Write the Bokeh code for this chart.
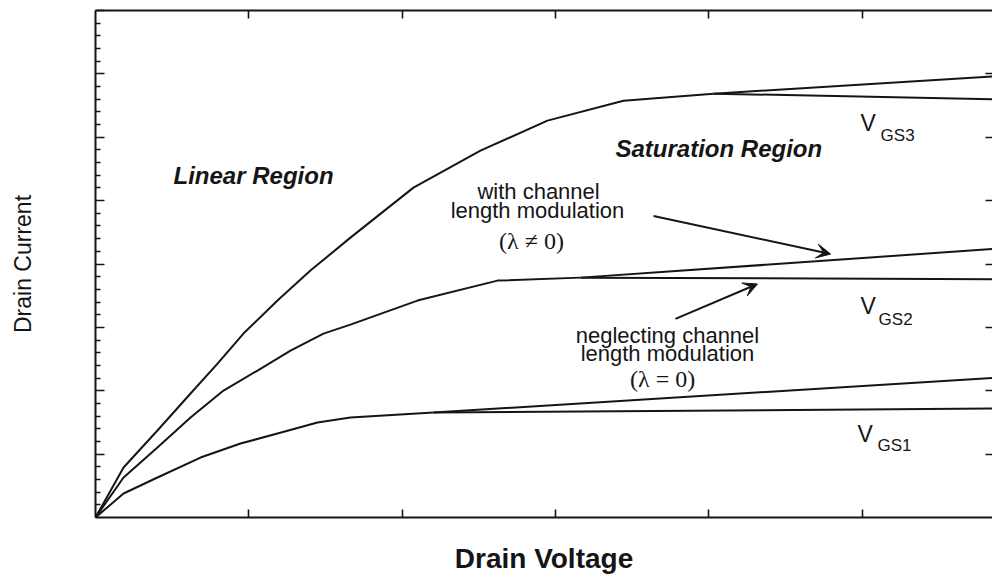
from bokeh.plotting import figure
from bokeh.models import Range1d, LinearAxis, FixedTicker, Label, Arrow, VeeHead
from bokeh.embed import file_html
from bokeh.resources import INLINE

# ---------------- data ----------------
# Drain voltage (arbitrary units) / drain current (arbitrary units)
vgs3_vds = [0, 0.183, 0.404, 0.620, 0.796, 0.965, 1.187, 1.402, 1.663, 2.074, 2.511, 2.948, 3.444, 4.031]
vgs3_id = [0, 0.789, 1.372, 1.956, 2.429, 2.902, 3.423, 3.896, 4.416, 5.205, 5.789, 6.262, 6.577, 6.688]
vgs2_vds = [0, 0.183, 0.404, 0.620, 0.835, 1.057, 1.272, 1.487, 1.663, 2.100, 2.622, 3.164]
vgs2_id = [0, 0.631, 1.104, 1.577, 2.003, 2.319, 2.634, 2.902, 3.044, 3.423, 3.738, 3.785]
vgs1_vds = [0, 0.183, 0.404, 0.685, 0.946, 1.187, 1.448, 1.663, 2.205]
vgs1_id = [0, 0.379, 0.631, 0.946, 1.167, 1.325, 1.498, 1.577, 1.656]

vds_end = 5.87
# saturation current at the right edge: with (lambda != 0) and without (lambda = 0) CLM
sat_end_clm = [6.96, 4.24, 2.205]     # VGS3, VGS2, VGS1
sat_end_flat = [6.60, 3.76, 1.72]

x_ticks = [1, 2, 3, 4, 5]
y_ticks = [1, 2, 3, 4, 5, 6, 7, 8]
y_minor = [i / 5 for i in range(1, 40) if i % 5 != 0]

INK = "#151515"
SANS = "Liberation Sans"

p = figure(width=992, height=577, output_backend="svg", toolbar_location=None,
           x_range=Range1d(0, 5.851), y_range=Range1d(0, 8),
           x_axis_location=None, y_axis_location=None,
           min_border_left=95, min_border_right=0, min_border_top=10, min_border_bottom=60)
p.outline_line_color = None
p.xgrid.grid_line_color = None
p.ygrid.grid_line_color = None
p.background_fill_color = "white"
p.border_fill_color = "white"


def style_axis(ax, tick_len=8):
    ax.axis_line_color = INK
    ax.axis_line_width = 2
    ax.major_tick_in = tick_len
    ax.major_tick_out = 0
    ax.minor_tick_in = 5
    ax.minor_tick_out = 0
    ax.major_tick_line_color = INK
    ax.major_tick_line_width = 1.6
    ax.minor_tick_line_color = INK
    ax.minor_tick_line_width = 1.3
    ax.major_label_text_font_size = "0px"
    ax.major_label_text_color = None
    ax.major_label_text_alpha = 0
    ax.major_label_standoff = 0


left = LinearAxis(ticker=FixedTicker(ticks=y_ticks, minor_ticks=y_minor))
style_axis(left, 9)
left.axis_label = "Drain Current"
left.axis_label_text_font = SANS
left.axis_label_text_font_size = "23px"
left.axis_label_text_font_style = "normal"
left.axis_label_text_color = INK
left.axis_label_standoff = 60
p.add_layout(left, "left")

bottom = LinearAxis(ticker=FixedTicker(ticks=x_ticks, minor_ticks=[]))
style_axis(bottom, 8)
bottom.axis_label = "Drain Voltage"
bottom.axis_label_text_font = SANS
bottom.axis_label_text_font_size = "28px"
bottom.axis_label_text_font_style = "bold"
bottom.axis_label_text_color = INK
bottom.axis_label_standoff = 25
p.add_layout(bottom, "below")

top = LinearAxis(ticker=FixedTicker(ticks=x_ticks, minor_ticks=[]))
style_axis(top, 8)
p.add_layout(top, "above")

right = LinearAxis(ticker=FixedTicker(ticks=y_ticks[:-1], minor_ticks=[]))
style_axis(right, 7)
right.axis_line_color = None
p.add_layout(right, "right")

# ---------------- curves ----------------
curves = [(vgs3_vds, vgs3_id), (vgs2_vds, vgs2_id), (vgs1_vds, vgs1_id)]
for (xs, ys), yc, yf in zip(curves, sat_end_clm, sat_end_flat):
    p.line(xs, ys, line_color=INK, line_width=2, line_join="round")
    p.line([xs[-1], vds_end], [ys[-1], yc], line_color=INK, line_width=2)
    p.line([xs[-1], vds_end], [ys[-1], yf], line_color=INK, line_width=2)

# ---------------- annotations ----------------
def lab(x, y, text, size, style="normal", font=SANS, align="left"):
    p.add_layout(Label(x=x, y=y, text=text, text_font=font, text_font_size=size,
                       text_font_style=style, text_color=INK, text_align=align,
                       text_baseline="middle"))


lab(0.509, 5.39, "Linear Region", "24px", "bold italic")
lab(3.392, 5.83, "Saturation Region", "24px", "bold italic")

lab(2.890, 5.14, "with channel", "22px", align="center")
lab(2.883, 4.84, "length modulation", "22px", align="center")
lab(2.844, 4.37, "(\u03bb \u2260 0)", "24px", font="Liberation Serif", align="center")

lab(3.731, 2.87, "neglecting channel", "22px", align="center")
lab(3.731, 2.58, "length modulation", "22px", align="center")
lab(3.699, 2.19, "(\u03bb = 0)", "24px", font="Liberation Serif", align="center")

for vx, vy, sx, sy, sub in [(4.99, 6.22, 5.121, 6.03, "GS3"),
                            (4.99, 3.34, 5.108, 3.13, "GS2"),
                            (4.971, 1.31, 5.101, 1.13, "GS1")]:
    lab(vx, vy, "V", "23px")
    lab(sx, sy, sub, "17px")

head = dict(size=14, fill_color=INK, line_color=INK, line_width=1)
p.add_layout(Arrow(end=VeeHead(**head), x_start=3.640, y_start=4.756,
                   x_end=4.795, y_end=4.157, line_color=INK, line_width=2))
p.add_layout(Arrow(end=VeeHead(**head), x_start=3.783, y_start=3.134,
                   x_end=4.318, y_end=3.685, line_color=INK, line_width=2))

open("out.html", "w").write(file_html(p, INLINE))
